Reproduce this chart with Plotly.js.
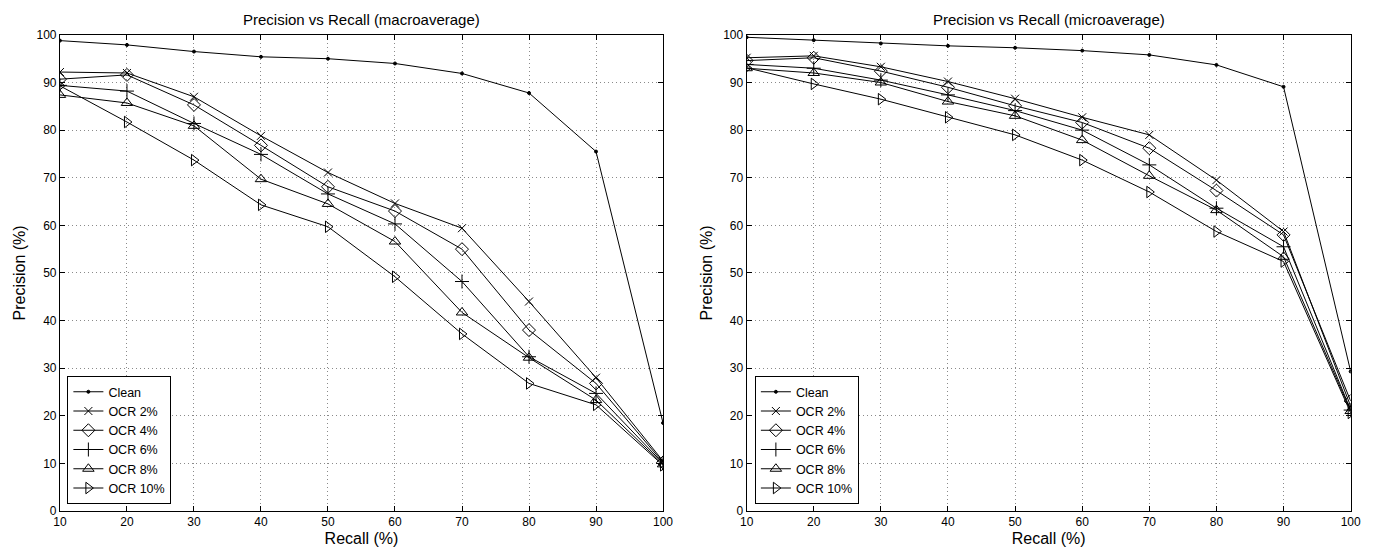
<!DOCTYPE html>
<html><head><meta charset="utf-8">
<script src="https://cdn.plot.ly/plotly-3.0.1.min.js"></script>
<style>html,body{margin:0;padding:0;background:#fff}#chart{width:1375px;height:554px}</style>
</head><body><div id="chart"></div>
<script>
const recall = [10,20,30,40,50,60,70,80,90,100];
const seriesNames = ["Clean","OCR 2%","OCR 4%","OCR 6%","OCR 8%","OCR 10%"];
// macroaverage precision
const macroClean = [98.8,97.9,96.5,95.4,95.0,94.0,91.9,87.8,75.5,18.5];
const macroOcr2  = [92.2,92.0,87.0,78.8,71.1,64.6,59.4,44.0,28.0,10.5];
const macroOcr4  = [90.7,91.6,85.3,76.8,68.1,63.0,55.0,38.0,26.8,10.2];
const macroOcr6  = [89.4,88.2,81.4,74.9,66.6,60.3,48.2,32.4,24.7,10.0];
const macroOcr8  = [87.4,85.7,80.9,69.7,64.5,56.6,41.7,32.2,23.3,9.8];
const macroOcr10 = [89.3,81.7,73.7,64.3,59.7,49.2,37.2,26.8,22.3,9.6];
// microaverage precision
const microClean = [99.5,98.9,98.2,97.7,97.3,96.7,95.8,93.7,89.1,29.3];
const microOcr2  = [95.2,95.6,93.3,90.2,86.6,82.7,79.0,69.5,58.7,22.0];
const microOcr4  = [94.6,95.2,92.4,89.0,85.1,81.6,76.2,67.3,58.0,23.1];
const microOcr6  = [93.8,93.0,90.5,87.4,84.1,80.0,72.7,63.6,55.5,21.2];
const microOcr8  = [93.0,92.0,90.0,86.0,83.0,77.9,70.4,63.2,53.4,21.0];
const microOcr10 = [93.1,89.7,86.5,82.7,79.0,73.7,67.0,58.7,52.4,20.6];
const xTicks = [10,20,30,40,50,60,70,80,90,100];
const yTicks = [0,10,20,30,40,50,60,70,80,90,100];

const symbols = ["circle","x-thin-open","diamond-open","cross-thin-open","triangle-up-open","triangle-right-open"];
const sizes = [3,8,10,10,10,10];
const macro = [macroClean,macroOcr2,macroOcr4,macroOcr6,macroOcr8,macroOcr10];
const micro = [microClean,microOcr2,microOcr4,microOcr6,microOcr8,microOcr10];

const traces = [];
function addSet(data, xa, ya, leg){
  data.forEach((ys,i)=>{
    traces.push({x:recall, y:ys, xaxis:xa, yaxis:ya, legend:leg, name:seriesNames[i],
      type:'scatter', mode:'lines+markers',
      line:{color:'#000', width:1},
      marker:{symbol:symbols[i], size:sizes[i], color:'#000', line:{color:'#000', width:1}}});
  });
}
addSet(macro,'x','y','legend');
addSet(micro,'x2','y2','legend2');

const FONT = 'Liberation Sans, Arial, sans-serif';
function xax(dom, anchor){
  return {domain:dom, anchor:anchor, range:[10,100], tickvals:xTicks, ticks:'inside', ticklen:5,
    tickcolor:'#000', showline:true, linecolor:'#000', linewidth:1, mirror:'allticks',
    showgrid:true, gridcolor:'#8a8a8a', griddash:'1px,3px', gridwidth:1, zeroline:false,
    tickfont:{family:FONT,size:12,color:'#000'},
    title:{text:'Recall (%)', font:{family:FONT,size:16,color:'#000'}, standoff:4}};
}
function yax(anchor){
  return {domain:[0.0776,0.937], anchor:anchor, range:[0,100], tickvals:yTicks, ticks:'inside', ticklen:5,
    tickcolor:'#000', showline:true, linecolor:'#000', linewidth:1, mirror:'allticks',
    showgrid:true, gridcolor:'#8a8a8a', griddash:'1px,3px', gridwidth:1, zeroline:false,
    tickfont:{family:FONT,size:12,color:'#000'},
    title:{text:'Precision (%)', font:{family:FONT,size:16,color:'#000'}, standoff:6}};
}
const legCommon = {bordercolor:'#000', borderwidth:1, bgcolor:'#fff',
  font:{family:FONT,size:12.5,color:'#000'}, xanchor:'left', yanchor:'bottom', tracegroupgap:0, itemwidth:30};

const layout = {
  width:1375, height:554, margin:{l:0,r:0,t:0,b:0},
  paper_bgcolor:'#fff', plot_bgcolor:'#fff', showlegend:true,
  xaxis: xax([0.0436,0.4822],'y'),
  yaxis: yax('x'),
  xaxis2: xax([0.543,0.9823],'y2'),
  yaxis2: yax('x2'),
  legend: Object.assign({x:0.049, y:0.09}, legCommon),
  legend2: Object.assign({x:0.549, y:0.09}, legCommon),
  annotations:[
    {text:'Precision vs Recall (macroaverage)', xref:'paper', yref:'paper', x:0.263, y:0.945,
     xanchor:'center', yanchor:'bottom', showarrow:false, font:{family:FONT,size:15,color:'#000'}},
    {text:'Precision vs Recall (microaverage)', xref:'paper', yref:'paper', x:0.7627, y:0.945,
     xanchor:'center', yanchor:'bottom', showarrow:false, font:{family:FONT,size:15,color:'#000'}}
  ]
};
Plotly.newPlot('chart', traces, layout, {displayModeBar:false, staticPlot:true});
</script></body></html>
